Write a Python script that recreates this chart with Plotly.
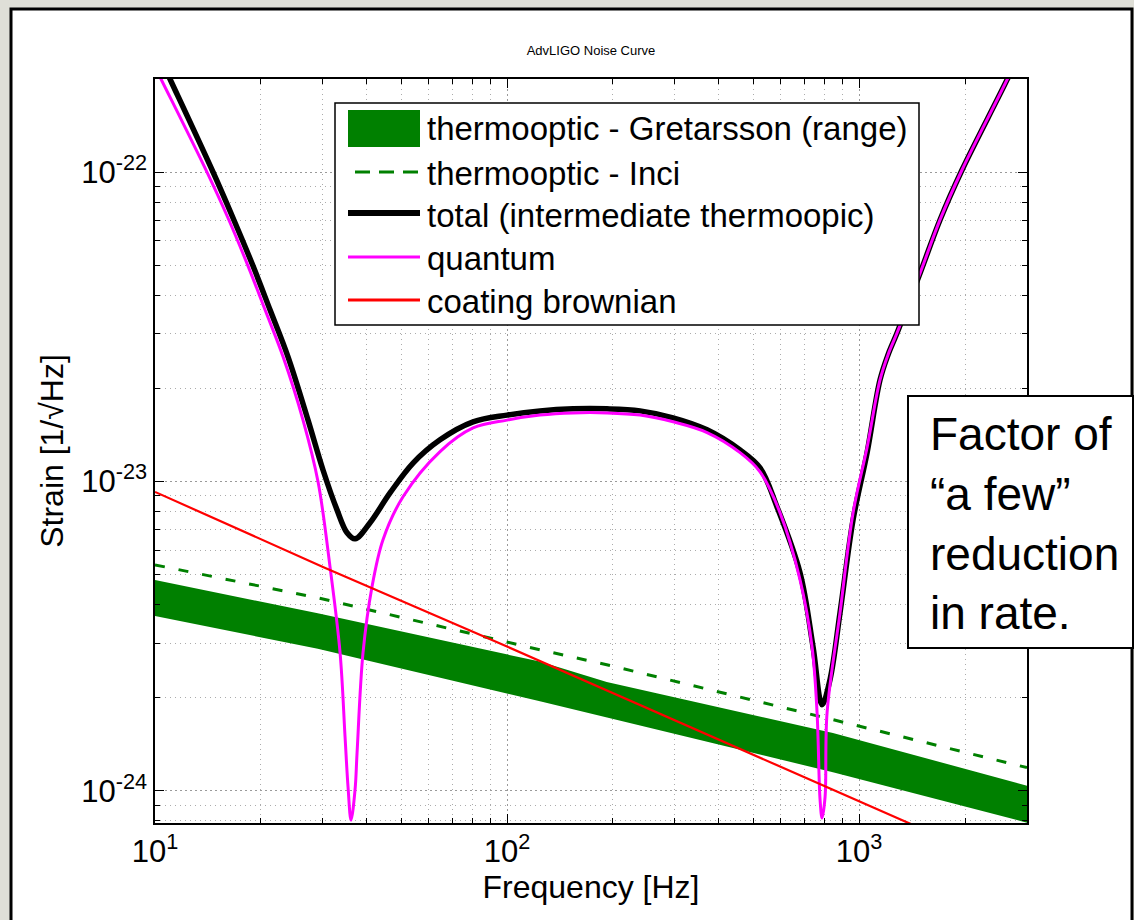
import math
import plotly.graph_objects as go

# ---------------- data ----------------
freq_band = [10, 29, 124, 192, 843, 3000]
band_upper = [4.81e-24, 3.75e-24, 2.62e-24, 2.25e-24, 1.54e-24, 1.04e-24]
band_lower = [3.68e-24, 2.88e-24, 1.95e-24, 1.73e-24, 1.15e-24, 7.9e-25]

freq_inci = [10, 29, 124, 192, 843, 3000]
strain_inci = [5.38e-24, 4.21e-24, 2.86e-24, 2.56e-24, 1.70e-24, 1.19e-24]

freq_total = [10, 11.03, 14.62, 16.66, 18.98, 21.22, 23.87, 27.21, 30.01, 32.89,
              35.12, 37.01, 40.82, 46.52, 54.08, 64.53, 80.08, 100, 124.1, 154,
              192.3, 238.7, 296.2, 370, 459.2, 523.3, 584.8, 679.9, 740.3, 785.2,
              827.1, 883.1, 961.6, 1054, 1147, 1209, 1282, 1491, 1699, 1961, 2634, 3000]
strain_total = [2.54e-22, 2.00e-22, 1.00e-22, 7.11e-23, 4.98e-23, 3.59e-23, 2.53e-23,
                1.58e-23, 1.09e-23, 8.10e-24, 6.83e-24, 6.53e-24, 7.36e-24, 9.19e-24,
                1.148e-23, 1.365e-23, 1.56e-23, 1.64e-23, 1.692e-23, 1.718e-23,
                1.718e-23, 1.692e-23, 1.607e-23, 1.47e-23, 1.265e-23, 1.107e-23,
                8.28e-24, 5.07e-24, 2.92e-24, 1.90e-24, 2.29e-24, 3.77e-24, 7.52e-24,
                1.24e-23, 2.13e-23, 2.57e-23, 3.02e-23, 4.72e-23, 7.02e-23, 1.016e-22,
                1.99e-22, 2.73e-22]

freq_quantum = [10, 10.4, 14.05, 16.12, 18.37, 20.54, 23.11, 26.33, 29.05, 31.42,
                33.55, 34.66, 35.35, 36.05, 37.01, 37.5, 38.99, 41.35, 44.43, 50.65,
                64.53, 80.08, 100, 124.1, 154, 192.3, 238.7, 296.2, 370, 459.2,
                523.3, 596.6, 679.9, 735.4, 759.9, 774.9, 785.2, 800.8, 811.3, 883.1,
                961.6, 1054, 1147, 1209, 1282, 1491, 1699, 1961, 2634, 3000]
strain_quantum = [2.19e-22, 2.00e-22, 1.00e-22, 7.11e-23, 4.98e-23, 3.59e-23, 2.53e-23,
                  1.58e-23, 9.98e-24, 5.30e-24, 2.80e-24, 1.50e-24, 1.03e-24, 8.05e-25,
                  1.01e-24, 1.33e-24, 2.80e-24, 4.57e-24, 6.49e-24, 8.93e-24, 1.25e-23,
                  1.49e-23, 1.58e-23, 1.64e-23, 1.667e-23, 1.667e-23, 1.64e-23,
                  1.56e-23, 1.44e-23, 1.24e-23, 1.075e-23, 7.92e-24, 4.81e-24,
                  2.92e-24, 1.79e-24, 9.37e-25, 8.18e-25, 9.57e-25, 1.79e-24, 3.77e-24,
                  7.92e-24, 1.29e-23, 2.13e-23, 2.57e-23, 3.02e-23, 4.72e-23, 7.02e-23,
                  1.016e-22, 1.99e-22, 2.73e-22]

freq_coating = [10, 30, 100, 300, 1000, 3000]
strain_coating = [9.26e-24, 5.30e-24, 2.93e-24, 1.69e-24, 9.3e-25, 5.35e-25]

x_ticks = [10, 100, 1000]
x_ticktext = ["10<sup>1</sup>", "10<sup>2</sup>", "10<sup>3</sup>"]
y_ticks = [1e-24, 1e-23, 1e-22]
y_ticktext = ["10<sup>-24</sup>", "10<sup>-23</sup>", "10<sup>-22</sup>"]
x_minor = [20, 30, 40, 50, 60, 70, 80, 90, 200, 300, 400, 500, 600, 700, 800, 900, 2000, 3000]
y_minor = [8e-25, 9e-25] + [k * 1e-24 for k in range(2, 10)] + [k * 1e-23 for k in range(2, 10)] + [2e-22]

x_range = [10, 3000]
y_range = [7.88e-25, 2.0e-22]

legend_names = ["thermooptic - Gretarsson (range)", "thermooptic - Inci",
                "total (intermediate thermoopic)", "quantum", "coating brownian"]
note_text = "Factor of<br>\u201ca few\u201d<br>reduction<br>in rate."

FONT = "Arial, Liberation Sans, sans-serif"
GREEN = "#008000"
MAGENTA = "#ff00ff"
RED = "#ff0000"

fig = go.Figure()
fig.add_trace(go.Scatter(x=freq_band, y=band_lower, mode="lines",
                         line=dict(width=0, color=GREEN), showlegend=False,
                         hoverinfo="skip", legendgroup="band"))
fig.add_trace(go.Scatter(x=freq_band, y=band_upper, mode="lines", fill="tonexty",
                         fillcolor=GREEN, line=dict(width=0, color=GREEN),
                         name=legend_names[0], legendgroup="band"))
fig.add_trace(go.Scatter(x=freq_inci, y=strain_inci, mode="lines",
                         line=dict(color=GREEN, width=3, dash="10px,14px"),
                         name=legend_names[1]))
fig.add_trace(go.Scatter(x=freq_total, y=strain_total, mode="lines",
                         line=dict(color="black", width=5.5, shape="spline", smoothing=1.0),
                         name=legend_names[2]))
fig.add_trace(go.Scatter(x=freq_quantum, y=strain_quantum, mode="lines",
                         line=dict(color=MAGENTA, width=3, shape="spline", smoothing=1.0),
                         name=legend_names[3]))
fig.add_trace(go.Scatter(x=freq_coating, y=strain_coating, mode="lines",
                         line=dict(color=RED, width=2.2), name=legend_names[4]))

W, H = 1134, 920
L, R, T, B = 155, 107, 79, 97
pw, ph = W - L - R, H - T - B


def px_x(p):
    return (p - L) / pw


def px_y(p):
    return (H - B - p) / ph


axis_common = dict(
    type="log", ticks="inside", ticklen=9, tickwidth=1, tickcolor="black",
    showline=True, linecolor="black", linewidth=1.5, mirror="ticks",
    showgrid=True, gridcolor="#9a9a9a", gridwidth=1, griddash="2px,3px",
    zeroline=False, tickfont=dict(size=31, family=FONT, color="black"),
)
minor_common = dict(ticks="inside", ticklen=5, tickcolor="black", showgrid=True,
                    gridcolor="#ababab", gridwidth=1, griddash="1px,4px")

fig.update_xaxes(
    range=[math.log10(x_range[0]), math.log10(x_range[1])],
    tickvals=x_ticks, ticktext=x_ticktext,
    minor=dict(tickvals=x_minor, **minor_common),
    title=dict(text="Frequency [Hz]", font=dict(size=32, family=FONT, color="black"), standoff=8),
    **axis_common,
)
fig.update_yaxes(
    range=[math.log10(y_range[0]), math.log10(y_range[1])],
    tickvals=y_ticks, ticktext=y_ticktext,
    minor=dict(tickvals=y_minor, **minor_common),
    title=dict(text="Strain [1/\u221aHz]", font=dict(size=32, family=FONT, color="black"), standoff=8),
    **axis_common,
)

# ---- legend (drawn as a MATLAB-style box) ----
leg_box = (335, 103, 919, 325)
row_y = [128, 173, 216, 258, 301]
sym_x0, sym_x1, txt_x = 348, 420, 425

shapes = [
    dict(type="rect", xref="paper", yref="paper", layer="below",
         x0=px_x(11), x1=px_x(1132), y0=px_y(940), y1=px_y(9),
         fillcolor="white", line=dict(color="black", width=3)),
    dict(type="rect", xref="paper", yref="paper", layer="above",
         x0=px_x(leg_box[0]), x1=px_x(leg_box[2]), y0=px_y(leg_box[3]), y1=px_y(leg_box[1]),
         fillcolor="white", line=dict(color="black", width=1.5)),
    dict(type="rect", xref="paper", yref="paper", layer="above",
         x0=px_x(sym_x0), x1=px_x(sym_x1), y0=px_y(147), y1=px_y(110),
         fillcolor=GREEN, line=dict(width=0)),
    dict(type="line", xref="paper", yref="paper", layer="above",
         x0=px_x(355), x1=px_x(sym_x1), y0=px_y(row_y[1] - 1), y1=px_y(row_y[1] - 1),
         line=dict(color=GREEN, width=3, dash="15px,9px")),
    dict(type="line", xref="paper", yref="paper", layer="above",
         x0=px_x(sym_x0), x1=px_x(sym_x1), y0=px_y(row_y[2] - 3), y1=px_y(row_y[2] - 3),
         line=dict(color="black", width=6)),
    dict(type="line", xref="paper", yref="paper", layer="above",
         x0=px_x(sym_x0), x1=px_x(sym_x1), y0=px_y(row_y[3] - 1), y1=px_y(row_y[3] - 1),
         line=dict(color=MAGENTA, width=3)),
    dict(type="line", xref="paper", yref="paper", layer="above",
         x0=px_x(sym_x0), x1=px_x(sym_x1), y0=px_y(row_y[4] - 1), y1=px_y(row_y[4] - 1),
         line=dict(color=RED, width=3)),
    dict(type="rect", xref="paper", yref="paper", layer="above",
         x0=px_x(908), x1=px_x(1133), y0=px_y(648), y1=px_y(396),
         fillcolor="white", line=dict(color="black", width=2)),
]

annotations = [
    dict(text=name, xref="paper", yref="paper", x=px_x(txt_x), y=px_y(yy),
         xanchor="left", yanchor="middle", align="left", showarrow=False,
         font=dict(size=33, family=FONT, color="black"))
    for name, yy in zip(legend_names, row_y)
]
annotations.append(
    dict(text=note_text, xref="paper", yref="paper", x=px_x(928), y=px_y(523),
         xanchor="left", yanchor="middle", align="left", showarrow=False,
         font=dict(size=46, family=FONT, color="black"))
)

fig.update_layout(
    width=W, height=H,
    margin=dict(l=L, r=R, t=T, b=B, pad=0, autoexpand=False),
    paper_bgcolor="#dfdfd7", plot_bgcolor="white",
    font=dict(family=FONT, color="black"),
    showlegend=False,
    title=dict(text="AdvLIGO Noise Curve", font=dict(size=13, family=FONT, color="black"),
               x=591 / W, xanchor="center", xref="container",
               y=1 - 50 / H, yanchor="middle", yref="container"),
    shapes=shapes,
    annotations=annotations,
)

fig.write_html("out.html")
